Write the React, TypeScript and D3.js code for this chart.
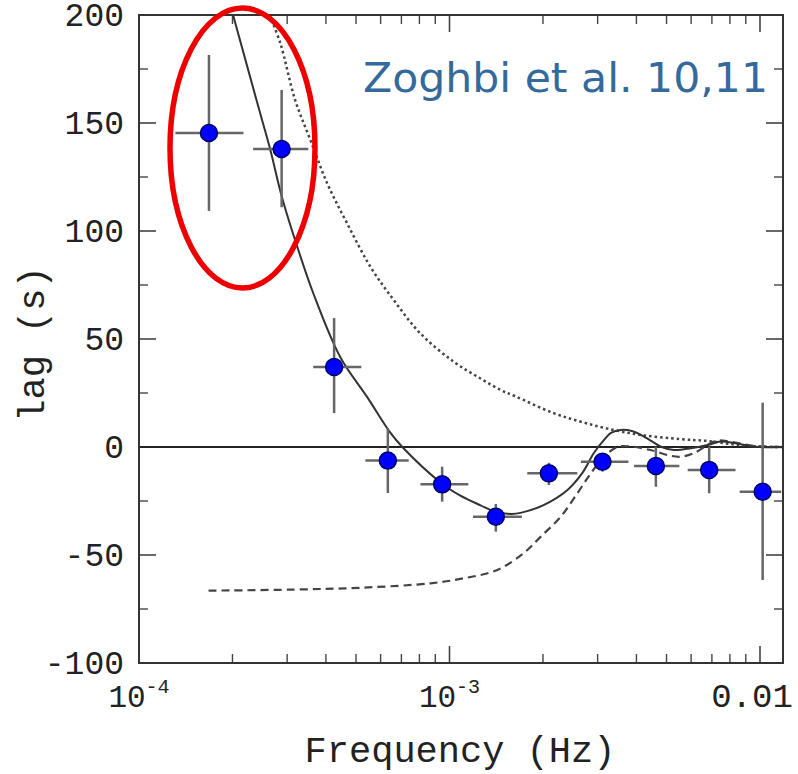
import React from "react";
import * as d3 from "d3";

// ---- data points (frequency in Hz, lag in s) ----
const freq = [1.68e-4, 2.88e-4, 4.25e-4, 6.33e-4, 9.47e-4, 1.41e-3, 2.09e-3, 3.11e-3, 4.62e-3, 6.86e-3, 1.02e-2];
const lag = [145.4, 138, 37, -6.3, -17.3, -32.3, -12.2, -6.8, -8.8, -10.6, -20.7];
const freqLo = [1.31e-4, 2.33e-4, 3.64e-4, 5.36e-4, 8.06e-4, 1.19e-3, 1.78e-3, 2.65e-3, 3.93e-3, 5.85e-3, 8.6e-3];
const freqHi = [2.17e-4, 3.51e-4, 5.2e-4, 7.39e-4, 1.15e-3, 1.71e-3, 2.58e-3, 3.77e-3, 5.5e-3, 8.34e-3, 1.17e-2];
const lagLo = [109.3, 111, 15.7, -21.3, -25.3, -39.2, -17.6, -11.4, -18.4, -21.4, -61.6];
const lagHi = [181.5, 165.3, 59.7, 8.8, -9.1, -26.4, -7.3, -2.8, 0.1, 0.1, 20.5];

// ---- model curves ----
const solidFreq = [2.009e-4, 2.455e-4, 2.649e-4, 2.884e-4, 3.236e-4, 3.639e-4, 4.446e-4, 5.433e-4, 6.457e-4, 7.047e-4, 9.484e-4, 1.084e-3, 1.259e-3, 1.406e-3, 1.585e-3, 1.694e-3, 2.009e-3, 2.399e-3, 2.679e-3, 2.917e-3, 3.141e-3, 3.311e-3, 3.565e-3, 3.89e-3, 4.13e-3, 4.467e-3, 4.797e-3, 5.284e-3, 5.984e-3, 6.776e-3, 7.482e-3, 8.241e-3, 9.572e-3, 1.194e-2];
const solidLag = [200, 154.6, 137.5, 115.9, 92.6, 71.3, 41.7, 23.1, 6.5, 0, -17.1, -22.5, -27, -30, -31, -30.5, -26.9, -19.9, -12, -2.8, 3.2, 6.5, 7.9, 7.3, 5.6, 2.8, 0.1, -1.4, -0.6, 0.9, 2.5, 1.9, 0.1, 0];

const dottedFreq = [2.63e-4, 2.851e-4, 3.184e-4, 3.565e-4, 4.036e-4, 4.677e-4, 5.559e-4, 6.607e-4, 8.054e-4, 1.033e-3, 1.259e-3, 1.462e-3, 1.622e-3, 2.163e-3, 2.649e-3, 3.228e-3, 4.13e-3, 5.559e-3, 6.776e-3, 8.241e-3, 1e-2, 1.194e-2];
const dottedLag = [200, 187, 160.6, 142.1, 122.1, 103.6, 83.5, 68.1, 52.6, 39.4, 31.7, 26.4, 23.6, 15.7, 11.7, 8.5, 5.6, 3.6, 2.8, 1.2, 0.2, 0];

const dashedFreq = [1.675e-4, 3.162e-4, 5.284e-4, 8.69e-4, 1.109e-3, 1.426e-3, 1.738e-3, 1.968e-3, 2.28e-3, 2.582e-3, 2.851e-3, 3.148e-3, 3.475e-3, 3.802e-3, 4.467e-3, 5.129e-3, 5.559e-3, 6.095e-3, 6.776e-3, 7.244e-3, 8.241e-3, 9.572e-3, 1.194e-2];
const dashedLag = [-66.5, -66, -65.1, -63.1, -60.8, -56.9, -49, -41.5, -32.3, -21.4, -12.2, -4.5, 0, 0.3, -1.5, -4, -4.5, -3, 0.9, 3, 2.2, 0.5, 0];

// ---- ticks ----
const yMajor = [-100, -50, 0, 50, 100, 150, 200];
const yMinor = [-75, -25, 25, 75, 125, 175];
const xMajor = [1e-4, 1e-3, 1e-2];
const xMinor = [2e-4, 3e-4, 4e-4, 5e-4, 6e-4, 7e-4, 8e-4, 9e-4, 2e-3, 3e-3, 4e-3, 5e-3, 6e-3, 7e-3, 8e-3, 9e-3];
const xLabelsBase = ["10", "10", "0.01"];
const xLabelsExp = ["-4", "-3", ""];
const annotation = "Zoghbi et al. 10,11";

const W = 798, H = 774;
const L = 139, R = 783, T = 15, B = 663;

export default function App() {
  const x = d3.scaleLog().domain([1e-4, 0.01186]).range([L, R]);
  const y = d3.scaleLinear().domain([-100, 200]).range([B, T]);

  const mkLine = (fs: number[], ls: number[]) =>
    d3.line<number>()
      .x((_, i) => x(fs[i]))
      .y((_, i) => y(ls[i]))
      .curve(d3.curveCatmullRom.alpha(0.5))(fs as any) || "";

  const mono = "'Liberation Mono', 'DejaVu Sans Mono', monospace";
  const tickColor = "#444";

  return (
    <svg width={W} height={H} style={{ position: "absolute", left: 0, top: 0, background: "#fff" }}>
      <defs>
        <clipPath id="plot">
          <rect x={L} y={T} width={R - L} height={B - T} />
        </clipPath>
      </defs>
      <rect x={0} y={0} width={W} height={H} fill="#fff" />

      {/* ticks */}
      {yMajor.map((v) => (
        <g key={"ym" + v}>
          <line x1={L} x2={L + 17} y1={y(v)} y2={y(v)} stroke={tickColor} strokeWidth={1.6} />
          <line x1={R - 17} x2={R} y1={y(v)} y2={y(v)} stroke={tickColor} strokeWidth={1.6} />
        </g>
      ))}
      {yMinor.map((v) => (
        <g key={"yn" + v}>
          <line x1={L} x2={L + 9} y1={y(v)} y2={y(v)} stroke={tickColor} strokeWidth={1.4} />
          <line x1={R - 9} x2={R} y1={y(v)} y2={y(v)} stroke={tickColor} strokeWidth={1.4} />
        </g>
      ))}
      {xMajor.map((v) => (
        <g key={"xm" + v}>
          <line x1={x(v)} x2={x(v)} y1={B} y2={B - 17} stroke={tickColor} strokeWidth={1.6} />
          <line x1={x(v)} x2={x(v)} y1={T} y2={T + 17} stroke={tickColor} strokeWidth={1.6} />
        </g>
      ))}
      {xMinor.map((v) => (
        <g key={"xn" + v}>
          <line x1={x(v)} x2={x(v)} y1={B} y2={B - 9} stroke={tickColor} strokeWidth={1.4} />
          <line x1={x(v)} x2={x(v)} y1={T} y2={T + 9} stroke={tickColor} strokeWidth={1.4} />
        </g>
      ))}

      {/* zero line */}
      <line x1={L} x2={R} y1={y(0)} y2={y(0)} stroke="#222" strokeWidth={2} />

      {/* model curves */}
      <g clipPath="url(#plot)" fill="none">
        <path d={mkLine(dottedFreq, dottedLag)} stroke="#444" strokeWidth={2.5} strokeDasharray="2.5 3" />
        <path d={mkLine(dashedFreq, dashedLag)} stroke="#444" strokeWidth={2.2} strokeDasharray="8 5" />
        <path d={mkLine(solidFreq, solidLag)} stroke="#333" strokeWidth={2} />
      </g>

      {/* error bars */}
      {freq.map((f, i) => (
        <g key={"e" + i} stroke="#666" strokeWidth={2.5}>
          <line x1={x(f)} x2={x(f)} y1={y(lagLo[i])} y2={y(lagHi[i])} />
          <line x1={x(freqLo[i])} x2={x(freqHi[i])} y1={y(lag[i])} y2={y(lag[i])} />
        </g>
      ))}

      {/* points */}
      {freq.map((f, i) => (
        <circle key={"p" + i} cx={x(f)} cy={y(lag[i])} r={8.5} fill="#0000ff" stroke="#000066" strokeWidth={1.5} />
      ))}

      {/* frame */}
      <rect x={L} y={T} width={R - L} height={B - T} fill="none" stroke="#333" strokeWidth={2} />

      {/* y tick labels */}
      {yMajor.map((v) => (
        <text key={"yl" + v} x={124} y={y(v) + 11} textAnchor="end" fontFamily={mono} fontSize={33} fill="#222">
          {v}
        </text>
      ))}

      {/* x tick labels */}
      {xMajor.map((v, i) => (
        <text key={"xl" + v} x={x(v) + (xLabelsExp[i] ? 0 : -8)} y={707} textAnchor="middle" fontFamily={mono} fontSize={xLabelsExp[i] ? 31 : 34} fill="#222">
          {xLabelsBase[i]}
          {xLabelsExp[i] ? (
            <tspan fontSize={20} dy={-14}>{xLabelsExp[i]}</tspan>
          ) : null}
        </text>
      ))}

      {/* axis titles */}
      <text x={460} y={762} textAnchor="middle" fontFamily={mono} fontSize={37} fill="#222">
        Frequency (Hz)
      </text>
      <text transform={`translate(44, ${344}) rotate(-90)`} textAnchor="middle" fontFamily={mono} fontSize={37} fill="#222">
        lag (s)
      </text>

      {/* highlight ellipse */}
      <ellipse cx={242.5} cy={148} rx={72.5} ry={140} fill="none" stroke="#ee0000" strokeWidth={5.5} />

      {/* annotation */}
      <text x={363} y={92} fontFamily="'DejaVu Sans', Verdana, sans-serif" fontSize={40} fill="#34699b" textLength={405} lengthAdjust="spacingAndGlyphs">
        {annotation}
      </text>
    </svg>
  );
}
